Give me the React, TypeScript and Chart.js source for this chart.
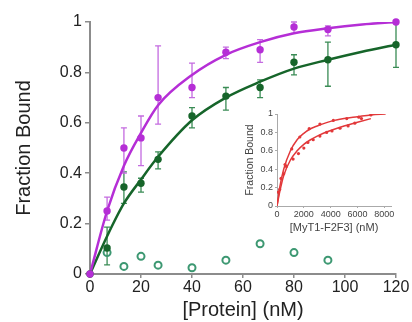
import React, { useEffect, useRef } from 'react';
import { Chart, registerables } from 'chart.js';

Chart.register(...registerables);

// ---------- main chart data ----------
const conc = [0, 6.7, 13.3, 20, 26.7, 40, 53.3, 66.7, 80, 93.3, 120];
const purpleBound = [0, 0.25, 0.5, 0.54, 0.7, 0.74, 0.88, 0.89, 0.98, 0.97, 1.0];
const purpleHigh = [0, 0.305, 0.58, 0.627, 0.905, 0.837, 0.9, 0.93, 1.0, 0.985, 1.0];
const purpleLow = [0, 0.214, 0.4, 0.43, 0.595, 0.7, 0.855, 0.84, 0.955, 0.945, 1.0];
const greenBound = [0, 0.103, 0.345, 0.36, 0.455, 0.627, 0.706, 0.74, 0.84, 0.85, 0.91];
const greenHigh = [0, 0.186, 0.405, 0.38, 0.485, 0.66, 0.74, 0.77, 0.87, 0.92, 1.0];
const greenLow = [0, 0.036, 0.28, 0.325, 0.417, 0.58, 0.65, 0.7, 0.79, 0.745, 0.82];
const controlConc = [6.7, 13.3, 20, 26.7, 40, 53.3, 66.7, 80, 93.3];
const controlBound = [0.085, 0.03, 0.07, 0.035, 0.025, 0.055, 0.12, 0.085, 0.055];
const fitConc = [0, 6.7, 13.3, 20, 26.7, 40, 53.3, 66.7, 80, 93.3, 106.7, 120];
const purpleFit = [0, 0.25, 0.43, 0.56, 0.67, 0.79, 0.87, 0.92, 0.955, 0.975, 0.99, 1.0];
const greenFit = [0, 0.15, 0.28, 0.375, 0.465, 0.61, 0.7, 0.763, 0.815, 0.85, 0.882, 0.91];
const xTicks = [0, 20, 40, 60, 80, 100, 120];
const yTicks = [0, 0.2, 0.4, 0.6, 0.8, 1];

// ---------- inset data ----------
const insetFitConc = [0, 200, 500, 1000, 1500, 2000, 2500, 3000, 4000, 5000, 6000, 7000, 8100];
const insetUpperFit = [0, 0.2, 0.4, 0.6, 0.72, 0.79, 0.84, 0.87, 0.92, 0.95, 0.97, 0.99, 1.0];
const insetLowerFitConc = [0, 200, 500, 1000, 1500, 2000, 2500, 3000, 4000, 5000, 6000, 7000];
const insetLowerFit = [0, 0.15, 0.33, 0.5, 0.6, 0.67, 0.72, 0.76, 0.82, 0.87, 0.91, 0.95];
const insetUpperConc = [100, 300, 600, 1100, 1700, 2400, 3200, 4200, 5200, 6100, 7000];
const insetUpperBound = [0.15, 0.3, 0.45, 0.62, 0.75, 0.84, 0.89, 0.93, 0.95, 0.965, 0.99];
const insetLowerConc = [200, 500, 700, 1200, 1600, 2000, 2300, 2700, 3200, 3700, 4100, 4700, 5300, 5800, 6300];
const insetLowerBound = [0.18, 0.35, 0.43, 0.51, 0.57, 0.63, 0.69, 0.72, 0.76, 0.8, 0.815, 0.845, 0.87, 0.9, 0.95];
const insetXTicks = [0, 2000, 4000, 6000, 8000];
const insetYTicks = [0, 0.2, 0.4, 0.6, 0.8, 1];

const FONT = "'Liberation Sans', Arial, sans-serif";
const PURPLE = '#b52ed6';
const PURPLE_ERR = '#c46be0';
const GREEN = '#16652a';
const GREEN_ERR = '#3a8c55';
const TEAL = '#3d9872';
const RED = '#e2383a';
const AXIS = '#8c8c8c';

const pts = (xs: number[], ys: number[]) => xs.map((x, i) => ({ x, y: ys[i] }));

const errorBars = {
  id: 'errorBars',
  beforeDatasetsDraw(chart: any) {
    const ctx = chart.ctx;
    const xs = chart.scales.x;
    const ys = chart.scales.y;
    chart.data.datasets.forEach((ds: any) => {
      if (!ds.errHigh) return;
      ctx.save();
      ctx.strokeStyle = ds.errColor;
      ctx.lineWidth = 1.3;
      ds.data.forEach((p: any, j: number) => {
        const x = xs.getPixelForValue(p.x);
        const yh = ys.getPixelForValue(ds.errHigh[j]);
        const yl = ys.getPixelForValue(ds.errLow[j]);
        if (Math.abs(yh - yl) < 1) return;
        ctx.beginPath();
        ctx.moveTo(x, yh);
        ctx.lineTo(x, yl);
        ctx.moveTo(x - 3, yh);
        ctx.lineTo(x + 3, yh);
        ctx.moveTo(x - 3, yl);
        ctx.lineTo(x + 3, yl);
        ctx.stroke();
      });
      ctx.restore();
    });
  },
};

export default function App() {
  const mainRef = useRef<HTMLCanvasElement>(null);
  const insetRef = useRef<HTMLCanvasElement>(null);

  useEffect(() => {
    const main = new Chart(mainRef.current as HTMLCanvasElement, {
      type: 'scatter',
      data: {
        datasets: [
          {
            type: 'line',
            data: pts(fitConc, purpleFit),
            borderColor: PURPLE,
            borderWidth: 2.5,
            pointRadius: 0,
            tension: 0.4,
            cubicInterpolationMode: 'monotone',
            order: 3,
          } as any,
          {
            type: 'line',
            data: pts(fitConc, greenFit),
            borderColor: GREEN,
            borderWidth: 2.5,
            pointRadius: 0,
            tension: 0.4,
            cubicInterpolationMode: 'monotone',
            order: 4,
          } as any,
          {
            data: pts(conc, greenBound),
            errHigh: greenHigh,
            errLow: greenLow,
            errColor: GREEN_ERR,
            backgroundColor: GREEN,
            borderColor: GREEN,
            pointRadius: 3.7,
            borderWidth: 0,
            clip: false,
            order: 2,
          } as any,
          {
            data: pts(conc, purpleBound),
            errHigh: purpleHigh,
            errLow: purpleLow,
            errColor: PURPLE_ERR,
            backgroundColor: PURPLE,
            borderColor: PURPLE,
            pointRadius: 3.7,
            borderWidth: 0,
            clip: false,
            order: 1,
          } as any,
          {
            data: pts(controlConc, controlBound),
            backgroundColor: 'rgba(0,0,0,0)',
            borderColor: TEAL,
            pointRadius: 3.5,
            borderWidth: 2,
            order: 5,
          } as any,
        ],
      },
      options: {
        animation: false,
        responsive: false,
        events: [],
        layout: { padding: { top: 22, right: 16, left: 0, bottom: 0 } },
        plugins: { legend: { display: false }, tooltip: { enabled: false } },
        scales: {
          x: {
            type: 'linear',
            min: 0,
            max: 120,
            afterBuildTicks: (s: any) => { s.ticks = xTicks.map((v) => ({ value: v })); },
            afterFit: (s: any) => { s.height = 48; },
            grid: { display: true, drawOnChartArea: false, drawTicks: true, tickLength: 4, color: AXIS, lineWidth: 1.5 },
            border: { display: true, color: AXIS, width: 2 },
            ticks: { color: '#222', font: { family: FONT, size: 16 }, padding: 0, maxRotation: 0, autoSkip: false, callback: (v: any) => String(v) },
            title: { display: true, text: '[Protein] (nM)', color: '#222', font: { family: FONT, size: 20 }, padding: { top: 0, bottom: 0 } },
          },
          y: {
            type: 'linear',
            min: 0,
            max: 1,
            afterBuildTicks: (s: any) => { s.ticks = yTicks.map((v) => ({ value: v })); },
            afterFit: (s: any) => { s.width = 90; },
            grid: { display: true, drawOnChartArea: false, drawTicks: true, tickLength: 5, color: AXIS, lineWidth: 1.5 },
            border: { display: true, color: AXIS, width: 2 },
            ticks: { color: '#222', font: { family: FONT, size: 16 }, padding: 3, autoSkip: false, callback: (v: any) => String(v) },
            title: { display: true, text: 'Fraction Bound', color: '#222', font: { family: FONT, size: 20 }, padding: { top: 12, bottom: 0 } },
          },
        },
      } as any,
      plugins: [errorBars],
    } as any);

    const inset = new Chart(insetRef.current as HTMLCanvasElement, {
      type: 'scatter',
      data: {
        datasets: [
          {
            type: 'line',
            data: pts(insetFitConc, insetUpperFit),
            borderColor: RED,
            borderWidth: 1.5,
            pointRadius: 0,
            tension: 0.4,
            cubicInterpolationMode: 'monotone',
          } as any,
          {
            type: 'line',
            data: pts(insetLowerFitConc, insetLowerFit),
            borderColor: RED,
            borderWidth: 1.5,
            pointRadius: 0,
            tension: 0.4,
            cubicInterpolationMode: 'monotone',
          } as any,
          {
            data: pts(insetUpperConc, insetUpperBound),
            backgroundColor: RED,
            borderColor: RED,
            pointRadius: 1.6,
            borderWidth: 0,
          } as any,
          {
            data: pts(insetLowerConc, insetLowerBound),
            backgroundColor: RED,
            borderColor: RED,
            pointRadius: 1.6,
            borderWidth: 0,
          } as any,
        ],
      },
      options: {
        animation: false,
        responsive: false,
        events: [],
        layout: { padding: { top: 14, right: 14, left: 0, bottom: 0 } },
        plugins: { legend: { display: false }, tooltip: { enabled: false } },
        scales: {
          x: {
            type: 'linear',
            min: 0,
            max: 8500,
            afterBuildTicks: (s: any) => { s.ticks = insetXTicks.map((v) => ({ value: v })); },
            afterFit: (s: any) => { s.height = 34; },
            grid: { display: true, drawOnChartArea: false, drawTicks: true, tickLength: 2, color: '#aaa', lineWidth: 1 },
            border: { display: true, color: '#aaa', width: 1 },
            ticks: { color: '#444', font: { family: FONT, size: 9 }, padding: 1, maxRotation: 0, autoSkip: false, callback: (v: any) => String(v) },
            title: { display: true, text: '[MyT1-F2F3] (nM)', color: '#444', font: { family: FONT, size: 11 }, padding: { top: 0, bottom: 5 } },
          },
          y: {
            type: 'linear',
            min: 0,
            max: 1,
            afterBuildTicks: (s: any) => { s.ticks = insetYTicks.map((v) => ({ value: v })); },
            afterFit: (s: any) => { s.width = 37; },
            grid: { display: true, drawOnChartArea: false, drawTicks: true, tickLength: 2, color: '#aaa', lineWidth: 1 },
            border: { display: true, color: '#aaa', width: 1 },
            ticks: { color: '#444', font: { family: FONT, size: 9 }, padding: 2, autoSkip: false, callback: (v: any) => String(v) },
            title: { display: true, text: 'Fraction Bound', color: '#444', font: { family: FONT, size: 10.5 }, padding: { top: 4, bottom: 0 } },
          },
        },
      } as any,
    } as any);

    return () => {
      main.destroy();
      inset.destroy();
    };
  }, []);

  return (
    <div style={{ position: 'absolute', left: 0, top: 0, width: 412, height: 322, background: '#fff' }}>
      <canvas ref={mainRef} width={412} height={322} style={{ position: 'absolute', left: 0, top: 0, width: 412, height: 322 }} />
      <canvas ref={insetRef} width={165} height={140} style={{ position: 'absolute', left: 240, top: 100, width: 165, height: 140 }} />
    </div>
  );
}
